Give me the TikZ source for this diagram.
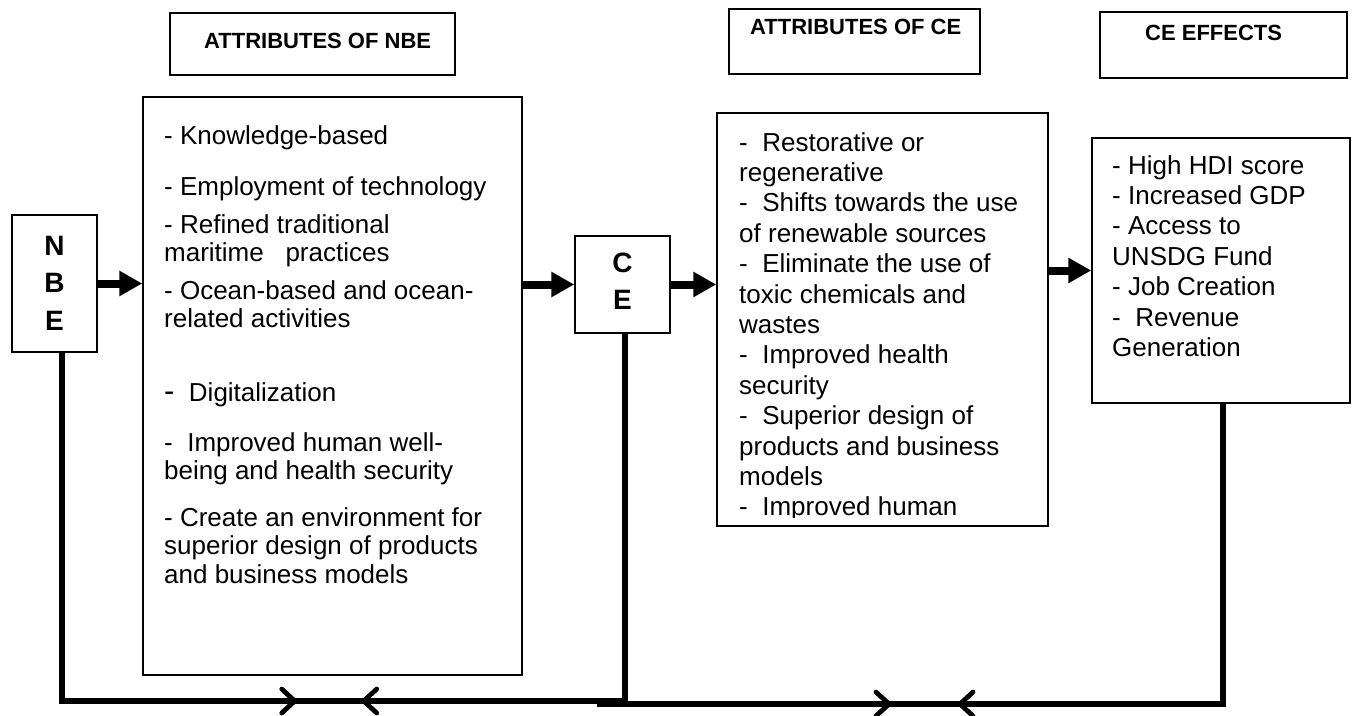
\documentclass[tikz,border=0pt]{standalone}
\usepackage{fontspec}
\setmainfont{Liberation Sans}
\usetikzlibrary{arrows.meta,decorations.markings}
\newcommand{\txtlines}[1]{\parbox[t]{400pt}{\raggedright #1}}
\begin{document}
\begin{tikzpicture}[x=1pt,y=-1pt,
  box/.style={draw,line width=1.5pt,inner sep=0pt},
  body/.style={anchor=base west,inner sep=0pt,font=\fontsize{26}{28.5}\selectfont},
  bodyw/.style={anchor=base west,inner sep=0pt,font=\fontsize{26}{30.4}\selectfont},
  ttl/.style={anchor=base west,inner sep=0pt,font=\fontsize{22}{26}\selectfont\bfseries},
  big/.style={align=center,inner sep=0pt,font=\fontsize{28}{37.5}\selectfont\bfseries},
  fat/.style={line width=8pt,-{Triangle[length=23pt,width=24pt]}},
  conn/.style={line width=6pt},
  chevR/.style={decoration={markings,mark=at position #1 with {\draw[line width=4.5pt,line cap=round] (-13,-12) -- (0,0) -- (-13,12);}},postaction={decorate}},
  chevL/.style={decoration={markings,mark=at position #1 with {\draw[line width=4.5pt,line cap=round] (13,-12) -- (0,0) -- (13,12);}},postaction={decorate}},
]
\useasboundingbox (0,0) rectangle (1355,715);

% title boxes
\node[box,minimum width=285pt,minimum height=62pt] (t1) at (312.5,44) {};
\node[ttl] (t1txt) at (204,48) {ATTRIBUTES OF NBE};
\node[box,minimum width=251pt,minimum height=65pt] (t2) at (854.5,41.5) {};
\node[ttl] (t2txt) at (750,34) {ATTRIBUTES OF CE};
\node[box,minimum width=247pt,minimum height=66pt] (t3) at (1223.5,45) {};
\node[ttl] (t3txt) at (1145,40) {CE EFFECTS};

% main boxes
\node[box,minimum width=85pt,minimum height=137pt] (nbe) at (54.5,283.5) {};
\node[big] (nbetxt) at (54.5,283) {N\\B\\E};
\node[box,minimum width=379pt,minimum height=578pt] (nbeattr) at (332.5,386) {};
\node[box,minimum width=95pt,minimum height=97pt] (ce) at (622.5,284.5) {};
\node[big] (cetxt) at (622.5,281) {C\\E};
\node[box,minimum width=331pt,minimum height=413pt] (ceattr) at (882.5,319.5) {};
\node[box,minimum width=258pt,minimum height=265pt] (ceeff) at (1221,270.5) {};

% NBE attributes text
\node[body] (n1) at (164,144) {- Knowledge-based};
\node[body] (n2) at (164,195) {- Employment of technology};
\node[body] (n3) at (164,233) {\txtlines{- Refined traditional\\maritime\ \ \ practices}};
\node[body] (n4) at (164,299) {\txtlines{- Ocean-based and ocean-\\related activities}};
\node[body] (n5) at (164,401) {{\fontsize{31}{31}\selectfont -}\ \ Digitalization};
\node[body] (n6) at (164,451) {\txtlines{-\ \ Improved human well-\\being and health security}};
\node[body] (n7) at (164,526) {\txtlines{- Create an environment for\\superior design of products\\and business models}};

% CE attributes text (clipped at the box)
\begin{scope}
\clip (717,113) rectangle (1048,517);
\node[bodyw] (c1) at (739,151) {\txtlines{-\ \ Restorative or\\regenerative\\-\ \ Shifts towards the use\\of renewable sources\\-\ \ Eliminate the use of\\toxic chemicals and\\wastes\\-\ \ Improved health\\security\\-\ \ Superior design of\\products and business\\models\\-\ \ Improved human}};
\end{scope}

% CE effects text
\node[bodyw] (e1) at (1112,174) {\txtlines{- High HDI score\\- Increased GDP\\- Access to\\UNSDG Fund\\- Job Creation\\-\ \ Revenue\\Generation}};

% arrows
\draw[fat] (nbe.east) -- (nbeattr.west |- nbe.east);
\draw[fat] (nbeattr.east |- ce.west) -- (ce.west);
\draw[fat] (ce.east) -- (ceattr.west |- ce.east);
\draw[fat] (ceattr.east |- ceeff.west) -- (ceeff.west);

% feedback lines
\coordinate (b1) at (62,701);
\coordinate (b2) at (625,701);
\coordinate (b3) at (597,704);
\coordinate (b4) at (1223,704);
\draw[conn,chevR=581pt,chevL=650pt] (nbe.south -| b1) -- (b1) -- (b2) -- (ce.south -| b2);
\draw[conn,chevR=292pt,chevL=363pt] (b3) -- (b4) -- (ceeff.south -| b4);
\end{tikzpicture}
\end{document}
